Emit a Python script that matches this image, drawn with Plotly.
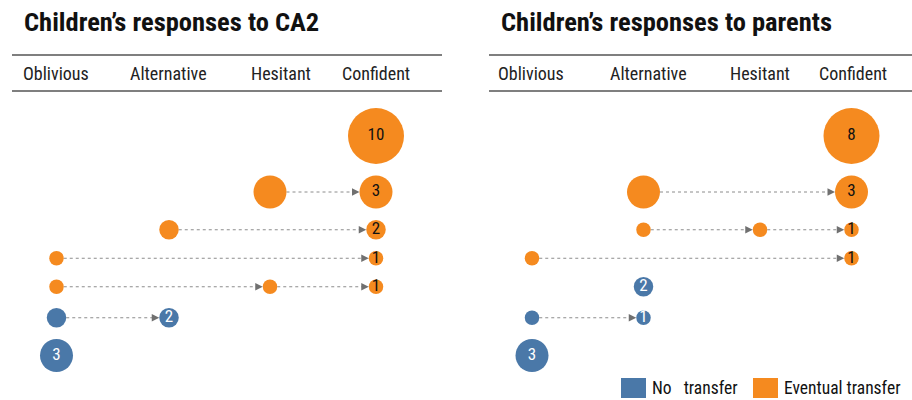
import plotly.graph_objects as go

# ---------------- data ----------------
STAGES = ["Oblivious", "Alternative", "Hesitant", "Confident"]
TRANSFER_LABELS = {"No": "No\u00a0\u00a0\u00a0transfer", "Eventual": "Eventual transfer"}

ca2_title = "Children’s responses to CA2"
ca2_paths = [
    ["Confident"],
    ["Hesitant", "Confident"],
    ["Alternative", "Confident"],
    ["Oblivious", "Confident"],
    ["Oblivious", "Hesitant", "Confident"],
    ["Oblivious", "Alternative"],
    ["Oblivious"],
]
ca2_counts = [10, 3, 2, 1, 1, 2, 3]
ca2_outcome = ["Eventual", "Eventual", "Eventual", "Eventual", "Eventual", "No", "No"]

parents_title = "Children’s responses to parents"
parents_paths = [
    ["Confident"],
    ["Alternative", "Confident"],
    ["Alternative", "Hesitant", "Confident"],
    ["Oblivious", "Confident"],
    ["Alternative"],
    ["Oblivious", "Alternative"],
    ["Oblivious"],
]
parents_counts = [8, 3, 1, 1, 2, 1, 3]
parents_outcome = ["Eventual", "Eventual", "Eventual", "Eventual", "No", "No", "No"]

# ---------------- style / layout ----------------
COLORS = {"No": "#4A78A8", "Eventual": "#F58A1F"}
TEXT_COLORS = {"No": "#FFFFFF", "Eventual": "#111111"}
DIAM = {1: 14.5, 2: 19.5, 3: 33, 8: 56, 10: 56}  # marker diameter per count
FONT = "Roboto Condensed, Roboto, Arial, sans-serif"

PANELS = [
    dict(xref="x", title=ca2_title, paths=ca2_paths, counts=ca2_counts, outcome=ca2_outcome,
         col={"Oblivious": 56.5, "Alternative": 169, "Hesitant": 270, "Confident": 376},
         head={"Oblivious": 56, "Alternative": 168, "Hesitant": 281, "Confident": 376},
         line=(12, 442), title_x=22),
    dict(xref="x2", title=parents_title, paths=parents_paths, counts=parents_counts, outcome=parents_outcome,
         col={"Oblivious": 76, "Alternative": 187.5, "Hesitant": 304, "Confident": 395.5},
         head={"Oblivious": 75, "Alternative": 192, "Hesitant": 303.5, "Confident": 397},
         line=(33, 460), title_x=43),
]

ROW_TOP = 136
ROW_GAP = 11.5
row_d = [max(DIAM[a], DIAM[b]) for a, b in zip(ca2_counts, parents_counts)]
row_y = [ROW_TOP]
for i in range(1, len(row_d)):
    row_y.append(row_y[-1] + row_d[i - 1] / 2 + row_d[i] / 2 + ROW_GAP)

fig = go.Figure()
annotations = []
shapes = []
ARROW_LEN = 7

for p in PANELS:
    xa = p["xref"]
    # arrows (dotted lines + heads)
    for path, cnt, out, y in zip(p["paths"], p["counts"], p["outcome"], row_y):
        d = DIAM[cnt]
        xs = [p["col"][s] for s in path]
        for a, b in zip(xs[:-1], xs[1:]):
            start = a + d / 2
            tip = b - d / 2
            fig.add_trace(go.Scatter(
                x=[start, tip - ARROW_LEN + 1], y=[y, y], mode="lines",
                line=dict(color="#8C8C8C", width=1, dash="dot"),
                xaxis=xa, yaxis="y", showlegend=False, hoverinfo="skip"))
            annotations.append(dict(
                x=tip, y=y, ax=tip - ARROW_LEN, ay=y, xref=xa, yref="y",
                axref=xa, ayref="y", text="", showarrow=True, arrowhead=2,
                arrowsize=1.5, arrowwidth=1, arrowcolor="#707070", standoff=0))
    # circles
    for path, cnt, out, y in zip(p["paths"], p["counts"], p["outcome"], row_y):
        d = DIAM[cnt]
        xs = [p["col"][s] for s in path]
        texts = [""] * (len(xs) - 1) + [str(cnt)]
        fig.add_trace(go.Scatter(
            x=xs, y=[y] * len(xs), mode="markers+text", text=texts,
            textposition="middle center",
            textfont=dict(family=FONT, size=17, color=TEXT_COLORS[out]),
            marker=dict(size=d, color=COLORS[out], line=dict(width=0)),
            xaxis=xa, yaxis="y", showlegend=False, hoverinfo="skip", cliponaxis=False))
    # header lines and labels
    for yy in (55, 91):
        shapes.append(dict(type="line", xref=xa, yref="y", x0=p["line"][0], x1=p["line"][1],
                           y0=yy, y1=yy, line=dict(color="#555555", width=1.5)))
    for s in STAGES:
        annotations.append(dict(x=p["head"][s], y=73, xref=xa, yref="y", text=s, showarrow=False,
                                xanchor="center", yanchor="middle",
                                font=dict(family=FONT, size=18, color="#222222")))
    annotations.append(dict(x=p["title_x"], y=21, xref=xa, yref="y", text="<b>" + p["title"] + "</b>",
                            showarrow=False, xanchor="left", yanchor="middle",
                            font=dict(family=FONT, size=26.5, color="#111111")))

# legend (right panel, bottom)
legend_pos = {"No": 165, "Eventual": 297}
for key, x0 in legend_pos.items():
    shapes.append(dict(type="rect", xref="x2", yref="y", x0=x0, x1=x0 + 25, y0=378, y1=398,
                       fillcolor=COLORS[key], line=dict(width=0)))
    annotations.append(dict(x=x0 + 29, y=388, xref="x2", yref="y", text=TRANSFER_LABELS[key],
                            showarrow=False, xanchor="left", yanchor="middle",
                            font=dict(family=FONT, size=17.5, color="#111111")))

fig.update_layout(
    width=912, height=400, margin=dict(l=0, r=0, t=0, b=0),
    paper_bgcolor="white", plot_bgcolor="white",
    xaxis=dict(domain=[0, 0.5], range=[0, 456], visible=False, fixedrange=True),
    xaxis2=dict(domain=[0.5, 1], range=[0, 456], visible=False, fixedrange=True, anchor="y"),
    yaxis=dict(domain=[0, 1], range=[400, 0], visible=False, fixedrange=True),
    annotations=annotations, shapes=shapes, showlegend=False,
)

fig.write_html("out.html", config={"displayModeBar": False},
               post_script="document.body.style.margin='0';document.body.style.overflow='hidden';")
